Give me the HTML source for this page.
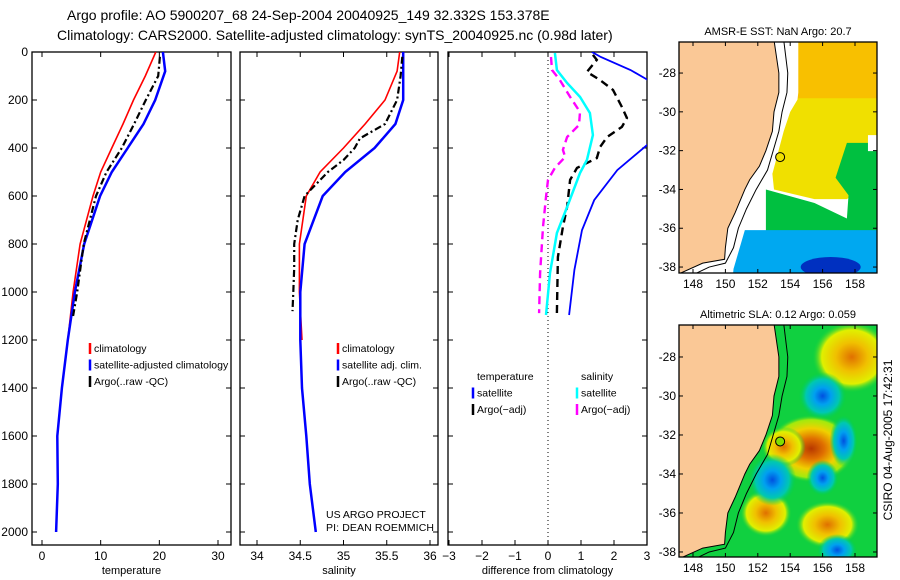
<!DOCTYPE html>
<html><head><meta charset="utf-8">
<style>
body{margin:0;background:#fff;}
svg{display:block;font-family:"Liberation Sans",sans-serif;}
text{fill:#000;}
</style></head>
<body>
<svg id="fig" width="900" height="580" viewBox="0 0 900 580" xmlns="http://www.w3.org/2000/svg">
<defs>
<clipPath id="c1"><rect x="32" y="52" width="199" height="493"/></clipPath>
<clipPath id="c2"><rect x="240" y="52" width="198" height="493"/></clipPath>
<clipPath id="c3"><rect x="448" y="52" width="199" height="493"/></clipPath>
<clipPath id="m1"><rect x="679" y="42" width="198" height="231"/></clipPath>
<clipPath id="m2"><rect x="679" y="325" width="198" height="232"/></clipPath>
<radialGradient id="gHot"><stop offset="0" stop-color="#b83800"/><stop offset="0.3" stop-color="#e07000"/><stop offset="0.6" stop-color="#f0d000"/><stop offset="0.85" stop-color="#c8f000" stop-opacity="0.8"/><stop offset="1" stop-color="#00d040" stop-opacity="0"/></radialGradient>
<radialGradient id="gWarm"><stop offset="0" stop-color="#e07000"/><stop offset="0.4" stop-color="#f0c000"/><stop offset="0.75" stop-color="#e0f000"/><stop offset="1" stop-color="#00d040" stop-opacity="0"/></radialGradient>
<radialGradient id="gCold"><stop offset="0" stop-color="#0050e0"/><stop offset="0.35" stop-color="#00a0f0"/><stop offset="0.7" stop-color="#00c8b0"/><stop offset="1" stop-color="#00d040" stop-opacity="0"/></radialGradient>
</defs>
<text x="67" y="20" font-size="14">Argo profile: AO 5900207_68 24-Sep-2004 20040925_149 32.332S 153.378E</text>
<text x="57" y="40" font-size="14">Climatology: CARS2000. Satellite-adjusted climatology: synTS_20040925.nc (0.98d later)</text>
<g id="root"></g>
<text transform="translate(892,440) rotate(-90)" font-size="12" text-anchor="middle">CSIRO 04-Aug-2005 17:42:31</text>
</svg>
<script>
const NS="http://www.w3.org/2000/svg";
const root=document.getElementById('root');
function el(tag,attrs,parent,txt){const e=document.createElementNS(NS,tag);for(const k in attrs)e.setAttribute(k,attrs[k]);if(txt!==undefined)e.textContent=txt;(parent||root).appendChild(e);return e;}

// ---------- Data ----------
const depthTicks=[0,200,400,600,800,1000,1200,1400,1600,1800,2000];
const tempTicks=[0,10,20,30];
const salTicks=[34,34.5,35,35.5,36];
const diffTicks=[-3,-2,-1,0,1,2,3];

const tClimDepth=[0,100,200,300,400,500,600,800,1000,1200];
const tClimVal=[19.4,17.6,15.6,13.8,11.9,10.0,8.7,6.5,5.3,4.4];
const tSatDepth=[0,80,200,300,400,500,600,800,1000,1200,1400,1600,1800,2000];
const tSatVal=[20.6,21.0,19.3,17.3,14.6,11.9,9.9,7.2,5.6,4.4,3.4,2.6,2.7,2.4];
const tArgoDepth=[20,100,200,300,400,500,600,800,1000,1100];
const tArgoVal=[20.1,19.8,17.7,15.7,13.6,11.0,9.2,7.1,6.0,5.3];

const sClimDepth=[0,80,200,300,400,500,600,800,1000,1200];
const sClimVal=[35.65,35.62,35.48,35.25,35.0,34.73,34.57,34.49,34.49,34.52];
const sSatDepth=[0,200,300,400,500,600,800,1000,1200,1400,1600,1800,2000];
const sSatVal=[35.69,35.69,35.6,35.36,35.02,34.76,34.55,34.5,34.5,34.52,34.57,34.61,34.68];
const sArgoDepth=[20,100,200,300,360,400,450,500,600,700,800,900,1000,1080];
const sArgoVal=[35.68,35.66,35.62,35.48,35.19,35.13,35.0,34.82,34.55,34.47,34.43,34.43,34.42,34.41];

const dTSatDepth=[0,21,75,117,200,300,388,492,617,742,908,1096];
const dTSatVal=[1.33,1.6,2.5,3.03,3.6,3.6,3.0,2.1,1.4,1.03,0.8,0.64];
const dTArgoDepth=[12,33,83,117,158,229,275,312,354,396,442,483,533,646,729,854,1088];
const dTArgoVal=[1.36,1.48,1.18,1.58,1.97,2.24,2.39,2.24,1.79,1.58,1.48,0.88,0.67,0.58,0.45,0.3,0.27];
const dSSatDepth=[4,75,129,187,254,346,450,504,646,754,921,1096];
const dSSatVal=[0.21,0.27,0.58,0.97,1.27,1.36,1.18,0.97,0.58,0.27,0.06,-0.06];
const dSArgoDepth=[21,75,117,187,250,304,354,408,437,483,533,604,729,921,1088];
const dSArgoVal=[0.09,0.12,0.36,0.67,0.97,0.94,0.58,0.45,0.52,0.21,0,-0.06,-0.15,-0.24,-0.27];

// ---------- Axes ----------
const yD=d=>52+d*0.24;
const xT=t=>42+t*5.867;
const xS=s=>257+(s-34)*86.5;
const xDf=v=>548+v*33;

function panel(name,x0,x1,xf,xticks,xlabel,xtickFmt,showY){
  el('rect',{x:x0,y:52,width:x1-x0,height:493,fill:'none',stroke:'#000','stroke-width':1.3,});
  xticks.forEach(v=>{const x=xf(v);
    el('line',{x1:x,y1:545,x2:x,y2:540,stroke:'#000'});
    el('line',{x1:x,y1:52,x2:x,y2:57,stroke:'#000'});
    el('text',{x:x,y:560,'font-size':12,'text-anchor':'middle',},undefined,xtickFmt(v));});
  depthTicks.forEach(d=>{const y=yD(d);
    el('line',{x1:x0,y1:y,x2:x0+5,y2:y,stroke:'#000'});
    el('line',{x1:x1,y1:y,x2:x1-5,y2:y,stroke:'#000'});
    if(showY) el('text',{x:28,y:y+4,'font-size':12,'text-anchor':'end',},undefined,String(d));});
  el('text',{x:(x0+x1)/2,y:574,'font-size':11,'text-anchor':'middle',},undefined,xlabel);
}
panel('temperature-panel',32,231,xT,tempTicks,'temperature',String,true);
panel('salinity-panel',240,438,xS,salTicks,'salinity',String,false);
panel('difference-panel',448,647,xDf,diffTicks,'difference from climatology',v=>v<0?'\u2212'+(-v):String(v),false);
el('line',{x1:xDf(0),y1:52,x2:xDf(0),y2:545,stroke:'#000','stroke-dasharray':'1,3',});

function series(name,depths,vals,xf,color,dash,clip,w){
  const pts=depths.map((d,i)=>xf(vals[i]).toFixed(1)+','+yD(d).toFixed(1)).join(' ');
  const a={points:pts,fill:'none',stroke:color,'stroke-width':w||2,'clip-path':'url(#'+clip+')',};
  if(dash)a['stroke-dasharray']=dash;
  el('polyline',a);
}
series('temp-climatology-line',tClimDepth,tClimVal,xT,'#f00',null,'c1',1.6);
series('temp-satellite-line',tSatDepth,tSatVal,xT,'#00f',null,'c1',2.5);
series('temp-argo-line',tArgoDepth,tArgoVal,xT,'#000','7,3,2,3','c1',2.2);
series('sal-climatology-line',sClimDepth,sClimVal,xS,'#f00',null,'c2',1.6);
series('sal-satellite-line',sSatDepth,sSatVal,xS,'#00f',null,'c2',2.5);
series('sal-argo-line',sArgoDepth,sArgoVal,xS,'#000','7,3,2,3','c2',2.2);
series('diff-temp-satellite-line',dTSatDepth,dTSatVal,xDf,'#00f',null,'c3',1.8);
series('diff-temp-argo-line',dTArgoDepth,dTArgoVal,xDf,'#000','8,5','c3',2.4);
series('diff-sal-satellite-line',dSSatDepth,dSSatVal,xDf,'#0ff',null,'c3',2.5);
series('diff-sal-argo-line',dSArgoDepth,dSArgoVal,xDf,'#f0f','8,5','c3',2.4);

function legend(name,x,y,items){
  items.forEach((it,i)=>{const yy=y+i*16.5;
    if(it[1]) el('line',{x1:x,y1:yy-9,x2:x,y2:yy+2,stroke:it[1],'stroke-width':2.5,});
    el('text',{x:x+4,y:yy,'font-size':10.5,},undefined,it[0]);});
}
legend('temp-legend',90,352,[['climatology','#f00'],['satellite-adjusted climatology','#00f'],['Argo(..raw -QC)','#000']]);
legend('sal-legend',338,352,[['climatology','#f00'],['satellite adj. clim.','#00f'],['Argo(..raw -QC)','#000']]);
legend('diff-temp-legend',473,380,[['temperature',null],['satellite','#00f'],['Argo(\u2212adj)','#000']]);
legend('diff-sal-legend',577,380,[['salinity',null],['satellite','#0ff'],['Argo(\u2212adj)','#f0f']]);
el('text',{x:326,y:518,'font-size':10.5,},undefined,'US ARGO PROJECT');
el('text',{x:326,y:531,'font-size':10.5,'textLength':108,},undefined,'PI: DEAN ROEMMICH');

// ---------- Maps ----------
const coast=[[-26.3,153.0],[-28,153.3],[-29,153.3],[-30,153.0],[-31,152.9],[-32,152.5],[-32.8,152.1],[-33.5,151.5],[-34,151.2],[-34.6,150.9],[-35.2,150.6],[-36,150.15],[-37,150.0],[-37.6,149.95],[-37.8,148.6],[-38.4,147.0]];
const iso=[[-26.3,153.6],[-28,153.85],[-29,153.8],[-30,153.5],[-31,153.3],[-32,152.95],[-33,152.6],[-34,151.9],[-35,151.3],[-36,150.8],[-37,150.5],[-37.8,150.0],[-38,149.0],[-38.4,148.0]];
function makeMap(name,top,bot,lat0,k,clip,title,fill){
  const X=lon=>693+(lon-148)*16.2, Y=lat=>top+(lat0-lat)*k;
  el('text',{x:778,y:top-7,'font-size':11,'text-anchor':'middle',},undefined,title);
  const g=el('g',{'clip-path':'url(#'+clip+')',});
  fill(g,X,Y);
  const land=coast.map(p=>X(p[1])+','+Y(p[0])).join(' ')+' 670,600 670,0';
  el('polygon',{points:land,fill:'#fac896',stroke:'#000','stroke-width':1,},g);
  el('polyline',{points:iso.map(p=>X(p[1])+','+Y(p[0])).join(' '),fill:'none',stroke:'#000','stroke-width':1,},g);
  el('circle',{cx:X(153.378),cy:Y(-32.332),r:4.5,fill:name==='sst-map'?'#f0e000':'#80e000',stroke:'#000',});
  el('rect',{x:679,y:top,width:198,height:bot-top,fill:'none',stroke:'#000','stroke-width':1.3,});
  [148,150,152,154,156,158].forEach(l=>{const x=X(l);
    el('line',{x1:x,y1:bot,x2:x,y2:bot-4,stroke:'#000'});el('line',{x1:x,y1:top,x2:x,y2:top+4,stroke:'#000'});
    el('text',{x:x,y:bot+15,'font-size':12,'text-anchor':'middle',},undefined,String(l));});
  [-28,-30,-32,-34,-36,-38].forEach(l=>{const y=Y(l);
    el('line',{x1:679,y1:y,x2:683,y2:y,stroke:'#000'});el('line',{x1:877,y1:y,x2:873,y2:y,stroke:'#000'});
    el('text',{x:676,y:y+4,'font-size':12,'text-anchor':'end',},undefined,'-'+(-l));});
}
makeMap('sst-map',42,273,-26.4,19.4,'m1','AMSR-E SST: NaN Argo: 20.7',(g,X,Y)=>{
  el('rect',{x:670,y:30,width:220,height:260,fill:'#fff'},g);
  el('polygon',{points:[[X(154.5),Y(-26)],[X(160),Y(-26)],[X(160),Y(-31.5)],[X(153.6),Y(-31.5)],[X(154.3),Y(-30.5)],[X(154.5),Y(-29)]].map(p=>p.join(',')).join(' '),fill:'#f8c000'},g);
  el('polygon',{points:[[X(154.5),Y(-29.3)],[X(160),Y(-29.3)],[X(160),Y(-33)],[X(157.5),Y(-34.5)],[X(155.5),Y(-34.5)],[X(153),Y(-34)],[X(152.9),Y(-33.2)],[X(153.6),Y(-31)],[X(154),Y(-30)]].map(p=>p.join(',')).join(' '),fill:'#f0e000'},g);
  el('polygon',{points:[[X(157.5),Y(-31.6)],[X(160),Y(-31.6)],[X(160),Y(-36.5)],[X(152.5),Y(-36.5)],[X(152.5),Y(-34)],[X(155.5),Y(-34.7)],[X(157.5),Y(-35.5)],[X(157.6),Y(-34.3)],[X(156.8),Y(-33.4)]].map(p=>p.join(',')).join(' '),fill:'#00c040'},g);
  el('polygon',{points:[[X(151.2),Y(-36.1)],[X(160),Y(-36.1)],[X(160),Y(-39)],[X(150.4),Y(-39)],[X(150.5),Y(-38.1)]].map(p=>p.join(',')).join(' '),fill:'#00a8f0'},g);
  el('ellipse',{cx:X(156.5),cy:Y(-38),rx:30,ry:10,fill:'#0030c0'},g);
  el('rect',{x:X(158.8),y:Y(-31.2),width:30,height:16,fill:'#fff'},g);
});
makeMap('sla-map',325,557,-26.36,19.5,'m2','Altimetric SLA: 0.12 Argo: 0.059',(g,X,Y)=>{
  el('rect',{x:670,y:320,width:220,height:240,fill:'#10d040'},g);
  [[157.8,-28,40,36,'gWarm'],[155.3,-32.7,44,34,'gHot'],[152.5,-36,26,24,'gWarm'],[156.3,-36.6,32,24,'gWarm'],[153.6,-32.6,22,20,'gWarm'],
   [156,-30,24,24,'gCold'],[152.9,-34.3,24,26,'gCold'],[156,-34.2,16,18,'gCold'],[156.9,-37.9,20,16,'gCold'],[157.3,-32.3,14,26,'gCold']]
   .forEach(b=>el('ellipse',{cx:X(b[0]),cy:Y(b[1]),rx:b[2],ry:b[3],fill:'url(#'+b[4]+')'},g));
});
</script>
</body></html>
